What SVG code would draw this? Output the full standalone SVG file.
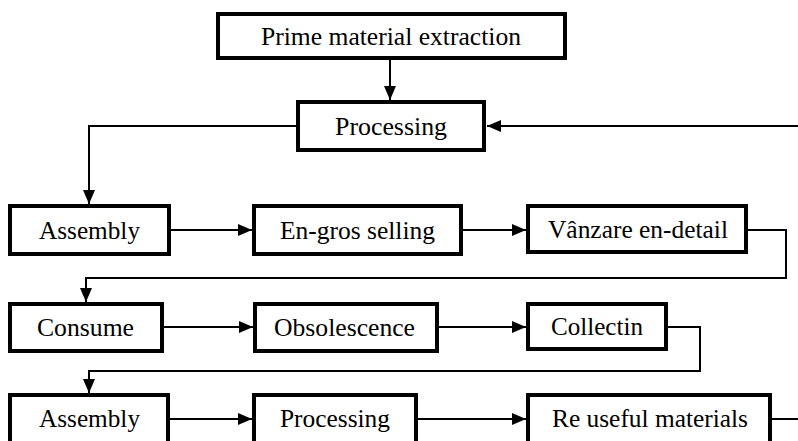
<svg xmlns="http://www.w3.org/2000/svg" width="798" height="441" viewBox="0 0 798 441">
<style>
.box{fill:#fff;stroke:#000;stroke-width:4}
.lbl{font-family:'Liberation Serif','DejaVu Serif','Noto Serif',serif;font-size:25px;fill:#000;text-anchor:middle}
.ln{fill:none;stroke:#000;stroke-width:2}
</style>
<defs>
<marker id="ah" markerUnits="userSpaceOnUse" markerWidth="14" markerHeight="12" viewBox="0 0 14 12" refX="14" refY="6" orient="auto">
<path d="M0,0 L14,6 L0,12 Z" fill="#000"/>
</marker>
</defs>
<rect width="798" height="441" fill="#fff"/>
<g id="connectors">
<path class="ln" d="M390,60 V100" marker-end="url(#ah)"/>
<path class="ln" d="M296,126 H89 V204" marker-end="url(#ah)"/>
<path class="ln" d="M798,126 H487" marker-end="url(#ah)"/>
<path class="ln" d="M171,230 H252" marker-end="url(#ah)"/>
<path class="ln" d="M463,230 H526" marker-end="url(#ah)"/>
<path class="ln" d="M748,230 H786 V278 H86 V302" marker-end="url(#ah)"/>
<path class="ln" d="M164,327 H253" marker-end="url(#ah)"/>
<path class="ln" d="M439,327 H526" marker-end="url(#ah)"/>
<path class="ln" d="M668,327 H700 V371 H89 V393" marker-end="url(#ah)"/>
<path class="ln" d="M170,419 H252" marker-end="url(#ah)"/>
<path class="ln" d="M418,419 H526" marker-end="url(#ah)"/>
<path class="ln" d="M772,419 H798"/>
</g>
<g id="n-extraction"><rect class="box" x="218" y="14" width="347" height="44"/><text class="lbl" x="391" y="45" textLength="260" lengthAdjust="spacingAndGlyphs">Prime material extraction</text></g>
<g id="n-processing1"><rect class="box" x="298" y="102" width="186" height="48"/><text class="lbl" x="391" y="135" textLength="112" lengthAdjust="spacingAndGlyphs">Processing</text></g>
<g id="n-assembly1"><rect class="box" x="10" y="206" width="159" height="48"/><text class="lbl" x="89.5" y="239" textLength="101" lengthAdjust="spacingAndGlyphs">Assembly</text></g>
<g id="n-engros"><rect class="box" x="254" y="206" width="207" height="48"/><text class="lbl" x="357.5" y="239" textLength="155" lengthAdjust="spacingAndGlyphs">En-gros selling</text></g>
<g id="n-vanzare"><rect class="box" x="528" y="206" width="218" height="46"/><text class="lbl" x="638" y="238" textLength="180" lengthAdjust="spacingAndGlyphs">Vânzare en-detail</text></g>
<g id="n-consume"><rect class="box" x="10" y="304" width="152" height="47"/><text class="lbl" x="85.5" y="336" textLength="97" lengthAdjust="spacingAndGlyphs">Consume</text></g>
<g id="n-obsolescence"><rect class="box" x="255" y="304" width="182" height="47"/><text class="lbl" x="344.5" y="336" textLength="141" lengthAdjust="spacingAndGlyphs">Obsolescence</text></g>
<g id="n-collectin"><rect class="box" x="528" y="304" width="138" height="45"/><text class="lbl" x="597" y="335" textLength="92" lengthAdjust="spacingAndGlyphs">Collectin</text></g>
<g id="n-assembly2"><rect class="box" x="10" y="395" width="158" height="50"/><text class="lbl" x="89.5" y="427" textLength="101" lengthAdjust="spacingAndGlyphs">Assembly</text></g>
<g id="n-processing2"><rect class="box" x="254" y="395" width="162" height="50"/><text class="lbl" x="335" y="427" textLength="110" lengthAdjust="spacingAndGlyphs">Processing</text></g>
<g id="n-reuseful"><rect class="box" x="528" y="395" width="242" height="50"/><text class="lbl" x="650" y="427" textLength="196" lengthAdjust="spacingAndGlyphs">Re useful materials</text></g>
</svg>
